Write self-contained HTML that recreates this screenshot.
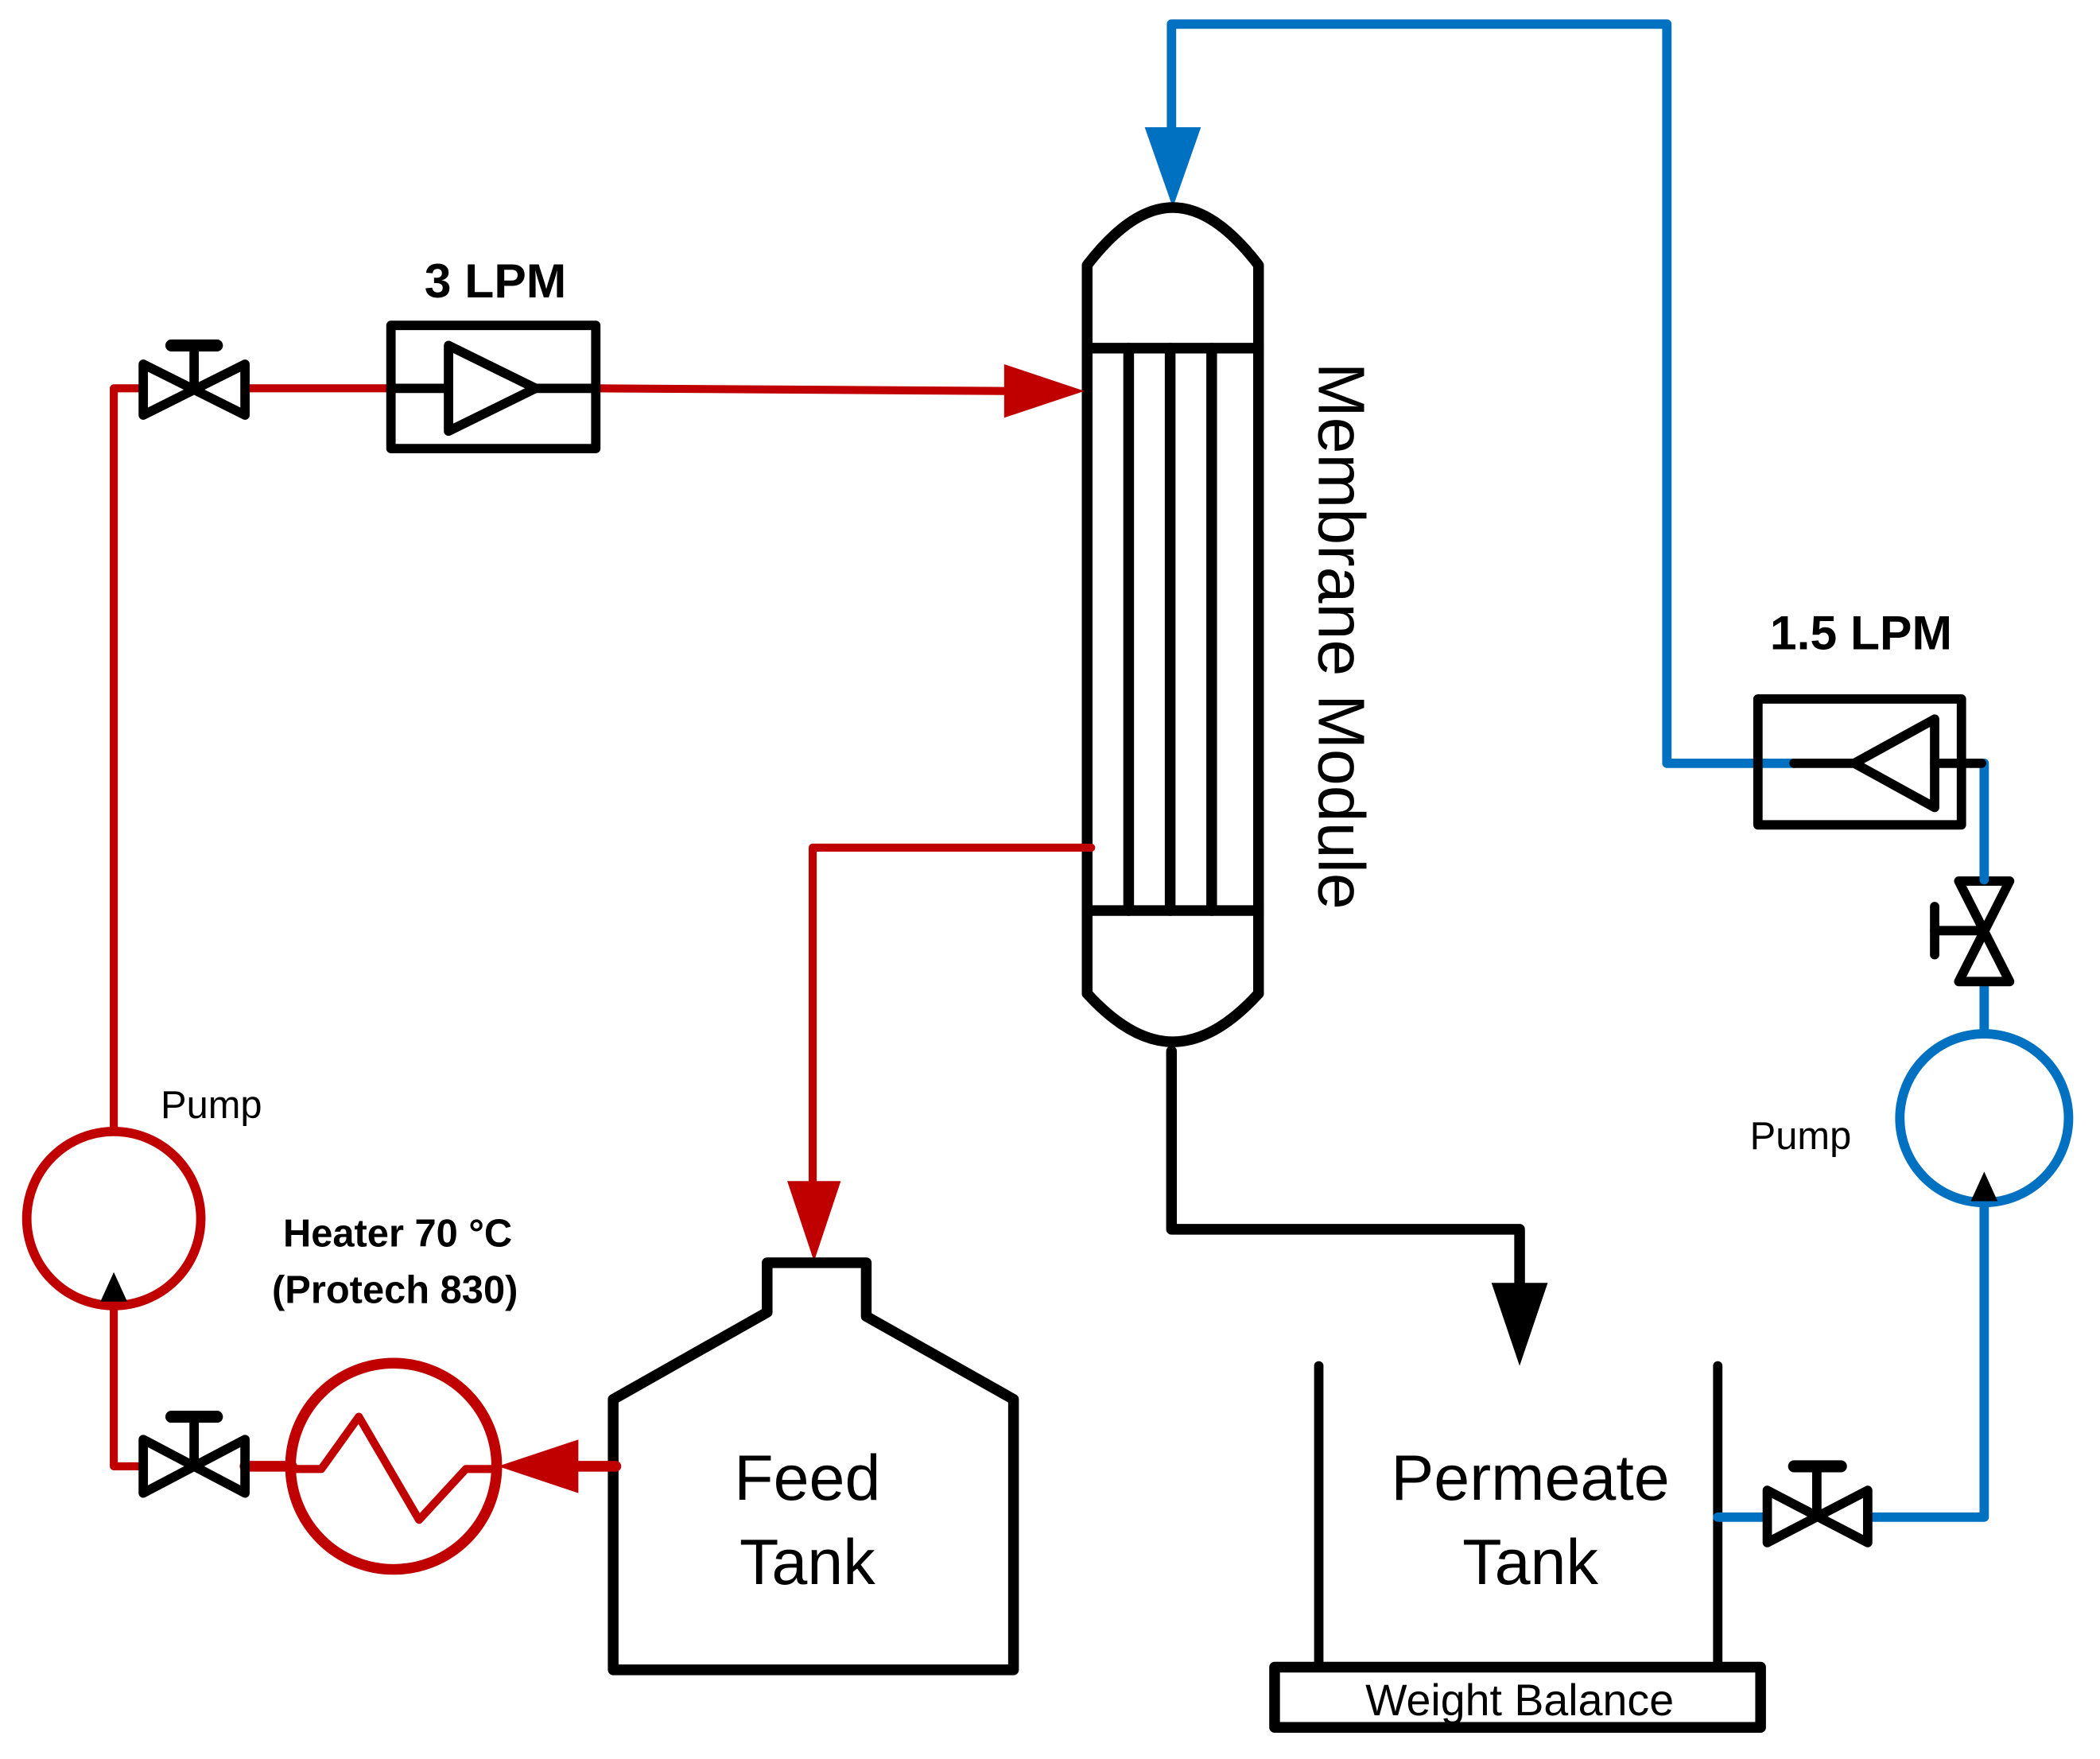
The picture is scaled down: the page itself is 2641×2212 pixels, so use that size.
<!DOCTYPE html>
<html><head><meta charset="utf-8"><style>
html,body{margin:0;padding:0;background:#fff;}
svg{display:block;}
text{font-family:"Liberation Sans",sans-serif;}
</style></head><body>
<svg width="2641" height="2212" viewBox="0 0 1568.5 1313.6" preserveAspectRatio="none" xmlns="http://www.w3.org/2000/svg">
<rect width="1569" height="1314" fill="#fff"/>
<g fill="none" stroke-linecap="round" stroke-linejoin="round">
<polyline points="875,95 875,18 1245,18 1245,570 1340,570" stroke="#0070C0" stroke-width="7"/>
<polygon points="855,95 897,95 876,155" fill="#0070C0" stroke="none"/>
<path d="M812,198 Q845,155 876,155 Q907,155 940,198 L940,742 Q907,778 876,778 Q845,778 812,742 Z" stroke="#000" stroke-width="8"/>
<line x1="812" y1="260" x2="940" y2="260" stroke="#000" stroke-width="8"/>
<line x1="812" y1="680" x2="940" y2="680" stroke="#000" stroke-width="8"/>
<line x1="843" y1="260" x2="843" y2="680" stroke="#000" stroke-width="8"/>
<line x1="874" y1="260" x2="874" y2="680" stroke="#000" stroke-width="8"/>
<line x1="905" y1="260" x2="905" y2="680" stroke="#000" stroke-width="8"/>
<polyline points="85,845 85,290 107,290" stroke="#C00000" stroke-width="6"/>
<line x1="183" y1="290" x2="292" y2="290" stroke="#C00000" stroke-width="6"/>
<polyline points="445,290 750,292" stroke="#C00000" stroke-width="6"/>
<polygon points="750,272 750,312 810,292" fill="#C00000" stroke="none"/>
<polygon points="107,272 183,310 183,272 107,310" stroke="#000" stroke-width="7"/>
<line x1="145" y1="291" x2="145" y2="258" stroke="#000" stroke-width="7"/>
<line x1="128" y1="258" x2="162" y2="258" stroke="#000" stroke-width="9"/>
<rect x="292" y="243" width="153" height="92" stroke="#000" stroke-width="7"/>
<line x1="292" y1="290" x2="335" y2="290" stroke="#000" stroke-width="7"/>
<line x1="400" y1="290" x2="445" y2="290" stroke="#000" stroke-width="7"/>
<polygon points="335,258 335,322 400,290" stroke="#000" stroke-width="7"/>
<polyline points="815,633 607,633 607,882" stroke="#C00000" stroke-width="6"/>
<polygon points="588,882 628,882 608,942" fill="#C00000" stroke="none"/>
<polygon points="458,1045 573,980 573,943 647,943 647,983 757,1045 757,1247 458,1247" stroke="#000" stroke-width="8"/>
<line x1="460" y1="1095" x2="430" y2="1095" stroke="#C00000" stroke-width="8"/>
<polygon points="432,1075 432,1115 372,1095" fill="#C00000" stroke="none"/>
<circle cx="294" cy="1095" r="77" stroke="#C00000" stroke-width="8"/>
<polyline points="218,1097 240,1097 268,1058 313,1135 348,1097 372,1097" stroke="#C00000" stroke-width="6"/>
<line x1="183" y1="1095" x2="218" y2="1095" stroke="#C00000" stroke-width="8"/>
<polyline points="107,1095 85,1095 85,975" stroke="#C00000" stroke-width="6"/>
<polygon points="107,1075 183,1115 183,1075 107,1115" stroke="#000" stroke-width="7"/>
<line x1="145" y1="1095" x2="145" y2="1058" stroke="#000" stroke-width="7"/>
<line x1="128" y1="1058" x2="162" y2="1058" stroke="#000" stroke-width="9"/>
<circle cx="85" cy="910" r="65" stroke="#C00000" stroke-width="7"/>
<polygon points="75,972 95,972 85,950" fill="#000" stroke="none"/>
<polyline points="875,785 875,918 1135,918 1135,960" stroke="#000" stroke-width="8"/>
<polygon points="1114,958 1156,958 1135,1020" fill="#000" stroke="none"/>
<line x1="985" y1="1020" x2="985" y2="1245" stroke="#000" stroke-width="7"/>
<line x1="1283" y1="1020" x2="1283" y2="1245" stroke="#000" stroke-width="7"/>
<rect x="952" y="1245" width="363" height="45" stroke="#000" stroke-width="8"/>
<line x1="1283" y1="1133" x2="1320" y2="1133" stroke="#0070C0" stroke-width="7"/>
<polyline points="1395,1133 1482,1133 1482,897" stroke="#0070C0" stroke-width="7"/>
<polygon points="1320,1113 1395,1152 1395,1113 1320,1152" stroke="#000" stroke-width="7"/>
<line x1="1357" y1="1132" x2="1357" y2="1095" stroke="#000" stroke-width="7"/>
<line x1="1340" y1="1095" x2="1375" y2="1095" stroke="#000" stroke-width="9"/>
<circle cx="1482" cy="835" r="63" stroke="#0070C0" stroke-width="7"/>
<polygon points="1472,897 1492,897 1482,875" fill="#000" stroke="none"/>
<line x1="1482" y1="772" x2="1482" y2="735" stroke="#0070C0" stroke-width="7"/>
<polygon points="1463,658 1501,658 1463,733 1501,733" stroke="#000" stroke-width="7"/>
<line x1="1482" y1="695" x2="1445" y2="695" stroke="#000" stroke-width="7"/>
<line x1="1445" y1="677" x2="1445" y2="713" stroke="#000" stroke-width="7"/>
<line x1="1482" y1="657" x2="1482" y2="570" stroke="#0070C0" stroke-width="7"/>
<rect x="1313" y="522" width="152" height="94" stroke="#000" stroke-width="7"/>
<line x1="1340" y1="570" x2="1385" y2="570" stroke="#000" stroke-width="7"/>
<line x1="1445" y1="570" x2="1480" y2="570" stroke="#000" stroke-width="7"/>
<polygon points="1445,537 1445,603 1385,570" stroke="#000" stroke-width="7"/>
</g>
<g fill="#000">
<text x="370" y="222" font-size="36" font-weight="bold" text-anchor="middle">3 LPM</text>
<text x="1390" y="485" font-size="36" font-weight="bold" text-anchor="middle">1.5 LPM</text>
<text transform="translate(985,475) rotate(90)" font-size="49" text-anchor="middle">Membrane Module</text>
<text x="120" y="835" font-size="29">Pump</text>
<text x="1307" y="858" font-size="29">Pump</text>
<text x="297" y="931" font-size="29" font-weight="bold" text-anchor="middle">Heater 70 °C</text>
<text x="295" y="973" font-size="29" font-weight="bold" text-anchor="middle">(Protech 830)</text>
<text x="603" y="1120" font-size="48" text-anchor="middle">Feed</text>
<text x="603" y="1183" font-size="48" text-anchor="middle">Tank</text>
<text x="1143" y="1120" font-size="48" text-anchor="middle">Permeate</text>
<text x="1143" y="1183" font-size="48" text-anchor="middle">Tank</text>
<text x="1135" y="1281" font-size="33" text-anchor="middle">Weight Balance</text>
</g>
</svg>
</body></html>
